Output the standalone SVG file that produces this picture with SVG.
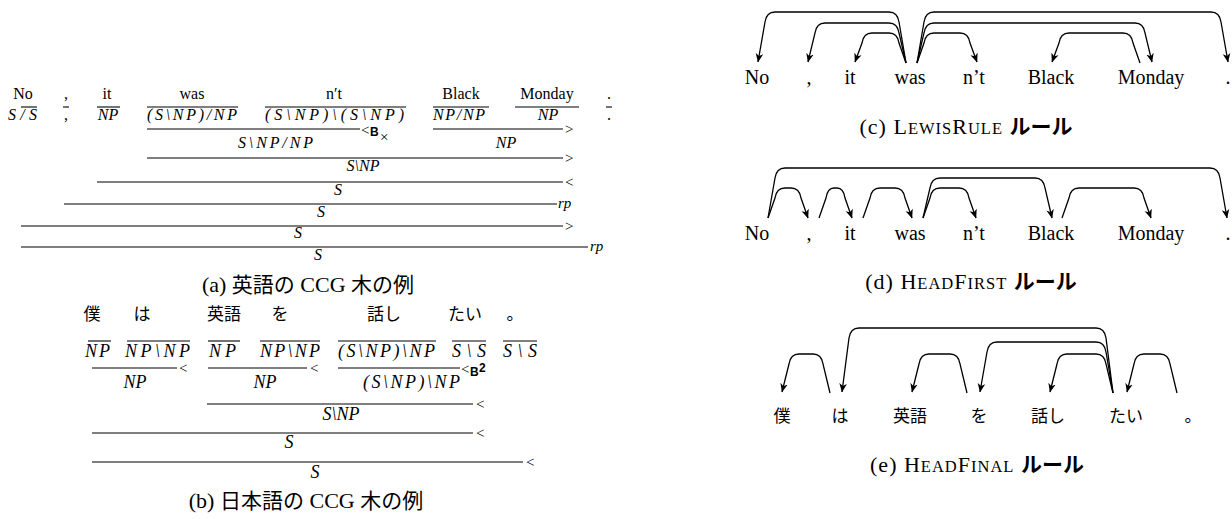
<svg xmlns="http://www.w3.org/2000/svg" width="1232" height="519" viewBox="0 0 1232 519">
<defs>
<style>
text { fill:#000; }
.w { font-family:"Liberation Serif","DejaVu Serif",serif; font-size:16px; text-anchor:middle; }
.c { font-family:"Liberation Serif","DejaVu Serif",serif; font-style:italic; font-size:16px; }
.cb { font-family:"Liberation Serif","DejaVu Serif",serif; font-style:italic; font-size:18px; }
.m { text-anchor:middle; }
.jw { font-family:"Noto Sans CJK JP",sans-serif; font-size:17px; text-anchor:middle; }
.rl { font-family:"Liberation Serif","DejaVu Serif",serif; font-size:15px; }
.ri { font-family:"Liberation Serif","DejaVu Serif",serif; font-style:italic; font-size:15px; }
.rb { font-family:"Liberation Sans","DejaVu Sans",sans-serif; font-weight:bold; font-size:12px; }
.bar { stroke:#000; stroke-width:1.1; fill:none; }
.cap { font-family:"Liberation Serif","DejaVu Serif",serif; font-size:22px; text-anchor:middle; }
.ls { letter-spacing:1px; }
.jp { font-family:"Noto Sans CJK JP",sans-serif; font-size:21px; letter-spacing:0; }
.jpb { font-family:"Noto Sans CJK JP",sans-serif; font-size:21px; font-weight:bold; letter-spacing:0; }
.sc { font-size:16.5px; }
.pw { font-family:"Liberation Serif","DejaVu Serif",serif; font-size:20px; text-anchor:middle; }
.pj { font-family:"Noto Sans CJK JP",sans-serif; font-size:17px; text-anchor:middle; }
.arc { fill:none; stroke:#000; stroke-width:1.3; marker-end:url(#ah); }
</style>
<marker id="ah" viewBox="0 0 10 10" refX="9.5" refY="5" markerWidth="9" markerHeight="9" markerUnits="userSpaceOnUse" orient="auto">
<path d="M0,0.8 L10,5 L0,9.2 L2.8,5 z" fill="#000"/>
</marker>
</defs>

<!-- (a) English CCG derivation -->
<g id="a-no"><text class="w" x="23" y="99">No</text><line class="bar" x1="21" y1="107" x2="37" y2="107"/><text class="c" x="8" y="120" textLength="29" lengthAdjust="spacing">S/S</text></g>
<g id="a-comma"><text class="w" x="66" y="99">,</text><line class="bar" x1="63" y1="107" x2="69" y2="107"/><text class="w" x="66" y="120">,</text></g>
<g id="a-it"><text class="w" x="107" y="99">it</text><line class="bar" x1="97" y1="107" x2="120" y2="107"/><text class="c m" x="108" y="120">NP</text></g>
<g id="a-was"><text class="w" x="192" y="99">was</text><line class="bar" x1="147" y1="107" x2="238" y2="107"/><text class="c" x="147" y="120" textLength="90" lengthAdjust="spacing">(S\NP)/NP</text></g>
<g id="a-nt"><text class="w" x="334" y="99">n′t</text><line class="bar" x1="265" y1="107" x2="406" y2="107"/><text class="c" x="265" y="120" textLength="139" lengthAdjust="spacing">(S\NP)\(S\NP)</text></g>
<g id="a-black"><text class="w" x="461" y="99">Black</text><line class="bar" x1="433" y1="107" x2="489" y2="107"/><text class="c" x="433" y="120" textLength="52" lengthAdjust="spacing">NP/NP</text></g>
<g id="a-monday"><text class="w" x="547" y="99">Monday</text><line class="bar" x1="515" y1="107" x2="579" y2="107"/><text class="c m" x="548" y="120">NP</text></g>
<g id="a-period"><text class="w" x="609" y="99">.</text><line class="bar" x1="606" y1="107" x2="612" y2="107"/><text class="w" x="609" y="120">.</text></g>

<g id="a-steps">
<line class="bar" x1="147" y1="129" x2="360" y2="129"/>
<text class="rl" x="361" y="135">&lt;</text><text class="rb" x="370" y="136">B</text><text class="rl" x="380" y="142" font-size="12">×</text>
<text class="c" x="238" y="148" textLength="75" lengthAdjust="spacing">S\NP/NP</text>
<line class="bar" x1="433" y1="129" x2="563" y2="129"/>
<text class="rl" x="565" y="133.5">&gt;</text>
<text class="c m" x="506" y="148">NP</text>
<line class="bar" x1="147" y1="158" x2="563" y2="158"/>
<text class="rl" x="565" y="162.5">&gt;</text>
<text class="c m" x="363" y="171">S\NP</text>
<line class="bar" x1="97" y1="182" x2="563" y2="182"/>
<text class="rl" x="565" y="186.5">&lt;</text>
<text class="c m" x="338" y="195">S</text>
<line class="bar" x1="64" y1="204" x2="557" y2="204"/>
<text class="ri" x="558" y="207.5">rp</text>
<text class="c m" x="321" y="217">S</text>
<line class="bar" x1="21" y1="226" x2="563" y2="226"/>
<text class="rl" x="565" y="230.5">&gt;</text>
<text class="c m" x="298" y="238">S</text>
<line class="bar" x1="21" y1="247" x2="588" y2="247"/>
<text class="ri" x="590" y="250.5">rp</text>
<text class="c m" x="318" y="260">S</text>
</g>
<text id="cap-a" class="cap" x="308" y="292">(a) <tspan class="jp">英語の</tspan> CCG <tspan class="jp">木の例</tspan></text>

<!-- (b) Japanese CCG derivation -->
<g id="b-boku"><text class="jw" x="92" y="320">僕</text><line class="bar" x1="88" y1="341" x2="111" y2="341"/><text class="cb" x="85" y="357" textLength="25" lengthAdjust="spacing">NP</text></g>
<g id="b-wa"><text class="jw" x="142" y="320">は</text><line class="bar" x1="127" y1="341" x2="190" y2="341"/><text class="cb" x="125" y="357" textLength="65" lengthAdjust="spacing">NP\NP</text></g>
<g id="b-eigo"><text class="jw" x="224" y="320">英語</text><line class="bar" x1="208" y1="341" x2="240" y2="341"/><text class="cb" x="209" y="357" textLength="27" lengthAdjust="spacing">NP</text></g>
<g id="b-wo"><text class="jw" x="280" y="320">を</text><line class="bar" x1="260" y1="341" x2="320" y2="341"/><text class="cb" x="260" y="357" textLength="60" lengthAdjust="spacing">NP\NP</text></g>
<g id="b-hanashi"><text class="jw" x="384" y="320">話し</text><line class="bar" x1="338" y1="341" x2="436" y2="341"/><text class="cb" x="338" y="357" textLength="97" lengthAdjust="spacing">(S\NP)\NP</text></g>
<g id="b-tai"><text class="jw" x="465" y="320">たい</text><line class="bar" x1="452" y1="341" x2="486" y2="341"/><text class="cb" x="452" y="357" textLength="34" lengthAdjust="spacing">S\S</text></g>
<g id="b-maru"><text class="jw" x="515" y="320">。</text><line class="bar" x1="503" y1="341" x2="537" y2="341"/><text class="cb" x="503" y="357" textLength="34" lengthAdjust="spacing">S\S</text></g>

<g id="b-steps">
<line class="bar" x1="92" y1="368" x2="177" y2="368"/>
<text class="rl" x="179" y="372.5">&lt;</text>
<text class="cb m" x="135" y="388">NP</text>
<line class="bar" x1="208" y1="368" x2="307" y2="368"/>
<text class="rl" x="310" y="372.5">&lt;</text>
<text class="cb m" x="265" y="388">NP</text>
<line class="bar" x1="338" y1="368" x2="460" y2="368"/>
<text class="rl" x="461" y="374">&lt;</text><text class="rb" x="470" y="376">B</text><text class="rb" x="479" y="372" font-size="8">2</text>
<text class="cb" x="363" y="388" textLength="97" lengthAdjust="spacing">(S\NP)\NP</text>
<line class="bar" x1="207" y1="404" x2="473" y2="404"/>
<text class="rl" x="476" y="408.5">&lt;</text>
<text class="cb m" x="341" y="420">S\NP</text>
<line class="bar" x1="92" y1="433" x2="473" y2="433"/>
<text class="rl" x="476" y="437.5">&lt;</text>
<text class="cb m" x="289" y="448">S</text>
<line class="bar" x1="92" y1="462" x2="523" y2="462"/>
<text class="rl" x="526" y="466.5">&lt;</text>
<text class="cb m" x="315" y="478">S</text>
</g>
<text id="cap-b" class="cap" x="306" y="508">(b) <tspan class="jp">日本語の</tspan> CCG <tspan class="jp">木の例</tspan></text>

<!-- (c) LewisRule dependencies -->
<g id="c-no"><text class="pw" x="757" y="84">No</text></g>
<g id="c-comma"><text class="pw" x="809" y="84">,</text></g>
<g id="c-it"><text class="pw" x="850" y="84">it</text></g>
<g id="c-was"><text class="pw" x="910" y="84">was</text></g>
<g id="c-nt"><text class="pw" x="974" y="84">n’t</text></g>
<g id="c-black"><text class="pw" x="1051" y="84">Black</text></g>
<g id="c-monday"><text class="pw" x="1151" y="84">Monday</text></g>
<g id="c-period"><text class="pw" x="1228" y="84">.</text></g>
<g id="c-arcs">
<path class="arc" d="M906,63 L899,22 Q897.5,12 889,12 L775,12 Q766.5,12 765,22 L758,62"/>
<path class="arc" d="M906,63 L899,33 Q897.5,23 889,23 L825,23 Q816.5,23 815,33 L808,62"/>
<path class="arc" d="M906,63 L899,43 Q897.5,33 889,33 L872,33 Q863.5,33 862,43 L855,62"/>
<path class="arc" d="M917,63 L924,43 Q925.5,33 934,33 L960,33 Q968.5,33 970,43 L977,62"/>
<path class="arc" d="M917,63 L924,33 Q925.5,23 934,23 L1135,23 Q1143.5,23 1145,33 L1152,62"/>
<path class="arc" d="M917,63 L924,22 Q925.5,12 934,12 L1211,12 Q1219.5,12 1221,22 L1228,62"/>
<path class="arc" d="M1140,63 L1133,43 Q1131.5,33 1123,33 L1069,33 Q1060.5,33 1059,43 L1052,62"/>
</g>
<text id="cap-c" class="cap" x="966" y="134"><tspan class="ls">(c) L<tspan class="sc">EWIS</tspan>R<tspan class="sc">ULE</tspan> </tspan><tspan class="jpb">ルール</tspan></text>

<!-- (d) HeadFirst dependencies -->
<g id="d-no"><text class="pw" x="757" y="240">No</text></g>
<g id="d-comma"><text class="pw" x="809" y="240">,</text></g>
<g id="d-it"><text class="pw" x="850" y="240">it</text></g>
<g id="d-was"><text class="pw" x="910" y="240">was</text></g>
<g id="d-nt"><text class="pw" x="974" y="240">n’t</text></g>
<g id="d-black"><text class="pw" x="1051" y="240">Black</text></g>
<g id="d-monday"><text class="pw" x="1151" y="240">Monday</text></g>
<g id="d-period"><text class="pw" x="1228" y="240">.</text></g>
<g id="d-arcs">
<path class="arc" d="M768,218 L775,198 Q776.5,188 785,188 L791,188 Q799.5,188 801,198 L808,218"/>
<path class="arc" d="M768,218 L775,178 Q776.5,168 785,168 L1210,168 Q1218.5,168 1220,178 L1227,218"/>
<path class="arc" d="M819,218 L826,198 Q827.5,188 834,188 L837,188 Q843.5,188 845,198 L852,218"/>
<path class="arc" d="M863,218 L870,198 Q871.5,188 880,188 L895,188 Q903.5,188 905,198 L912,218"/>
<path class="arc" d="M923,218 L930,198 Q931.5,188 940,188 L959,188 Q967.5,188 969,198 L976,218"/>
<path class="arc" d="M923,218 L930,188 Q931.5,178 940,178 L1035,178 Q1043.5,178 1045,188 L1052,218"/>
<path class="arc" d="M1062,218 L1069,198 Q1070.5,188 1079,188 L1134,188 Q1142.5,188 1144,198 L1151,218"/>
</g>
<text id="cap-d" class="cap" x="971" y="289"><tspan class="ls">(d) H<tspan class="sc">EAD</tspan>F<tspan class="sc">IRST</tspan> </tspan><tspan class="jpb">ルール</tspan></text>

<!-- (e) HeadFinal dependencies -->
<g id="e-boku"><text class="pj" x="782" y="422">僕</text></g>
<g id="e-wa"><text class="pj" x="840" y="422">は</text></g>
<g id="e-eigo"><text class="pj" x="910" y="422">英語</text></g>
<g id="e-wo"><text class="pj" x="979" y="422">を</text></g>
<g id="e-hanashi"><text class="pj" x="1048" y="422">話し</text></g>
<g id="e-tai"><text class="pj" x="1126" y="422">たい</text></g>
<g id="e-maru"><text class="pj" x="1193" y="422">。</text></g>
<g id="e-arcs">
<path class="arc" d="M830,393 L823,364 Q821.5,354 813,354 L799,354 Q790.5,354 789,364 L782,392"/>
<path class="arc" d="M967,393 L960,364 Q958.5,354 950,354 L929,354 Q920.5,354 919,364 L912,392"/>
<path class="arc" d="M1113,393 L1106,338 Q1104.5,328 1096,328 L859,328 Q850.5,328 849,338 L842,392"/>
<path class="arc" d="M1113,393 L1106,352 Q1104.5,342 1096,342 L997,342 Q988.5,342 987,352 L980,392"/>
<path class="arc" d="M1113,393 L1106,364 Q1104.5,354 1096,354 L1067,354 Q1058.5,354 1057,364 L1050,392"/>
<path class="arc" d="M1177,393 L1170,364 Q1168.5,354 1160,354 L1144,354 Q1135.5,354 1134,364 L1127,392"/>
</g>
<text id="cap-e" class="cap" x="977" y="472"><tspan class="ls">(e) H<tspan class="sc">EAD</tspan>F<tspan class="sc">INAL</tspan> </tspan><tspan class="jpb">ルール</tspan></text>
</svg>
